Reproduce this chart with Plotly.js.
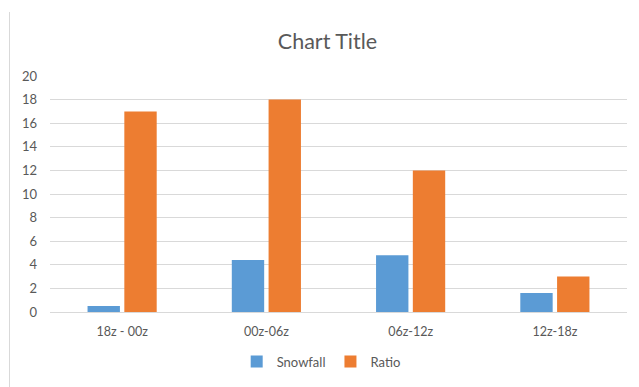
<!DOCTYPE html>
<html>
<head>
<meta charset="utf-8">
<script src="https://cdn.plot.ly/plotly-3.0.1.min.js"></script>
<style>
  html, body { margin: 0; padding: 0; background: #fff; }
  #wrap { position: relative; width: 639px; height: 387px; overflow: hidden; }
  #edge { position: absolute; left: 9px; top: 12px; width: 1px; height: 375px; background: #d9d9d9; }
  #chart { position: absolute; left: 0; top: 0; width: 639px; height: 387px; }
</style>
</head>
<body>
<div id="wrap">
  <div id="chart"></div>
  <div id="edge"></div>
</div>
<script>
// Six-hour periods and the measured values for each
const periods = ["18z - 00z", "00z-06z", "06z-12z", "12z-18z"];
const snowfall = [0.5, 4.4, 4.8, 1.6];
const ratio = [17, 18, 12, 3];
const yTicks = [0, 2, 4, 6, 8, 10, 12, 14, 16, 18, 20];

const fontFamily = "Lato, 'Open Sans', sans-serif";
const textGray = "#595959";

const traces = [
  {
    type: "bar", name: "Snowfall", x: periods, y: snowfall,
    marker: { color: "#5b9bd5" }, hoverinfo: "skip"
  },
  {
    type: "bar", name: "Ratio", x: periods, y: ratio,
    marker: { color: "#ed7d31" }, hoverinfo: "skip"
  }
];

const layout = {
  width: 639, height: 387,
  margin: { l: 50, r: 12, t: 76, b: 74 },
  paper_bgcolor: "#ffffff", plot_bgcolor: "#ffffff",
  font: { family: fontFamily, color: textGray, size: 12.5 },
  title: {
    text: "Chart Title",
    font: { family: fontFamily, size: 21.5, color: textGray },
    x: 0.5125, xanchor: "center", y: 0.892, yanchor: "middle"
  },
  bargap: 0.49, bargroupgap: 0.12,
  showlegend: true,
  legend: {
    orientation: "h", x: 0.47, xanchor: "center", y: -0.205, yanchor: "middle",
    font: { family: fontFamily, size: 13, color: textGray },
    itemwidth: 30, tracegroupgap: 0
  },
  xaxis: {
    type: "category", showgrid: false, zeroline: false,
    showline: false, ticks: "", ticklabelstandoff: 10,
    tickfont: { family: fontFamily, size: 12.5, color: textGray }
  },
  yaxis: {
    range: [0, 20], tickvals: yTicks, ticktext: yTicks.map(String),
    showgrid: true, gridcolor: "#d9d9d9", gridwidth: 1,
    zeroline: true, zerolinecolor: "#d9d9d9", zerolinewidth: 1,
    showline: false, ticks: "", ticklabelstandoff: 12,
    tickfont: { family: fontFamily, size: 13, color: textGray }
  }
};

Plotly.newPlot("chart", traces, layout, { displayModeBar: false, staticPlot: true });
</script>
</body>
</html>
